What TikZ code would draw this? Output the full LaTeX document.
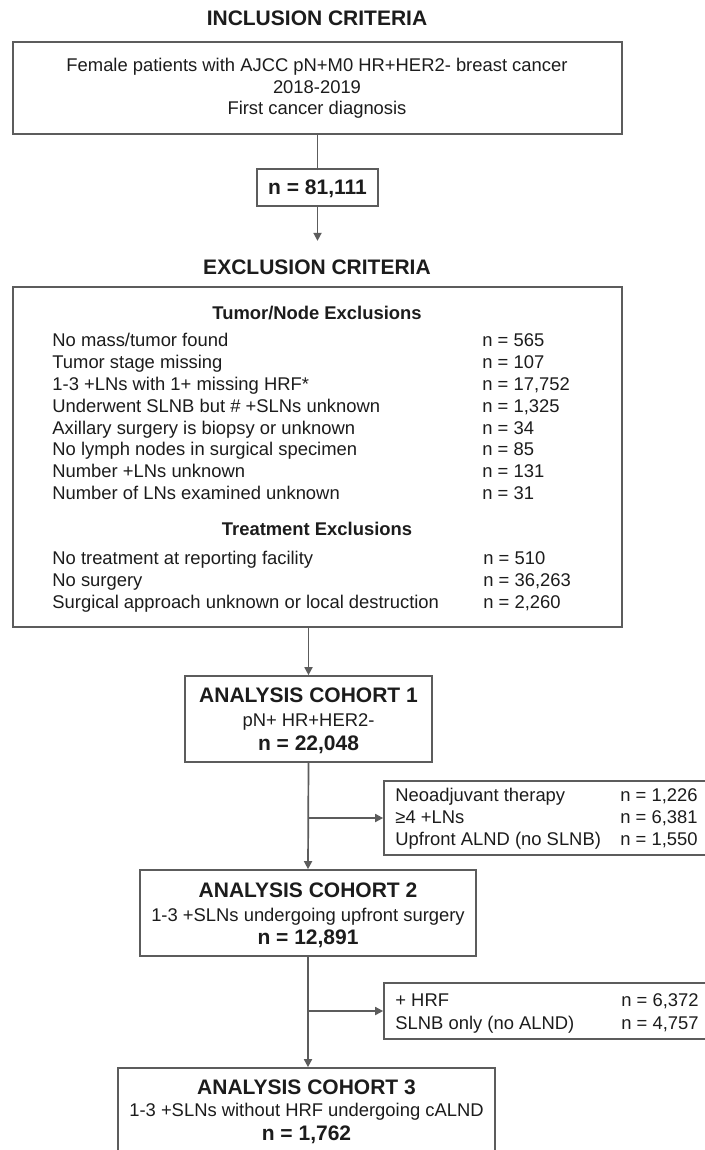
\documentclass[tikz,border=0pt]{standalone}
\usepackage{fontspec}
\setmainfont{Liberation Sans}
\usetikzlibrary{arrows.meta,fit}
\definecolor{linec}{HTML}{5C5C5C}
\definecolor{txtc}{HTML}{1C1C1C}
\begin{document}
\begin{tikzpicture}[x=0.5pt,y=-0.5pt,
  box/.style={draw=linec, line width=0.85pt, inner sep=0pt},
  txt/.style={text=txtc, font=\fontsize{9.2}{11}\selectfont, inner sep=0pt, text height=6.6pt, text depth=0pt},
  btxt/.style={txt, font=\fontsize{9.2}{11}\selectfont\bfseries},
  ttl/.style={txt, font=\fontsize{10.5}{12}\selectfont\bfseries, text height=7.5pt},
  lt/.style={txt, anchor=west},
  conn/.style={draw=linec, line width=0.85pt},
  arr/.style={conn, -{Triangle[length=4pt,width=4pt]}}
]
\useasboundingbox (0,0) rectangle (705,1150);
\clip (0,0) rectangle (705,1150);
\fill[white] (0,0) rectangle (705,1150);

% Inclusion
\node[ttl] (inctitle) at (317,18) {INCLUSION CRITERIA};
\node[box, fit={(13,42) (622,134)}] (inc) {};
\node[txt] (inc1) at (317,65) {Female patients with AJCC pN+M0 HR+HER2- breast cancer};
\node[txt] (inc2) at (317,87) {2018-2019};
\node[txt] (inc3) at (317,108) {First cancer diagnosis};
\node[box, fit={(257,169) (378,206)}] (n1) {};
\node[ttl] (n1t) at (n1.center) {n = 81,111};
\coordinate (excarr) at ([yshift=-17pt]n1.south);
\draw[conn] (inc.south) -- (n1.north);
\draw[arr] (n1.south) -- (excarr);

% Exclusion
\node[ttl] (exctitle) at (317,267) {EXCLUSION CRITERIA};
\node[box, fit={(13,287) (622,627)}] (exc) {};
\node[btxt] (tn) at (317,313) {Tumor/Node Exclusions};
\foreach \i/\a/\b in {0/{No mass/tumor found}/{n = 565},
                      1/{Tumor stage missing}/{n = 107},
                      2/{1-3 +LNs with 1+ missing HRF*}/{n = 17,752},
                      3/{Underwent SLNB but \# +SLNs unknown}/{n = 1,325},
                      4/{Axillary surgery is biopsy or unknown}/{n = 34},
                      5/{No lymph nodes in surgical specimen}/{n = 85},
                      6/{Number +LNs unknown}/{n = 131},
                      7/{Number of LNs examined unknown}/{n = 31}}{
  \node[lt] (tnl\i) at (52,{340+21.85*\i}) {\a};
  \node[lt] (tnr\i) at (482,{340+21.85*\i}) {\b};
}
\node[btxt] (tr) at (317,529) {Treatment Exclusions};
\foreach \i/\a/\b in {0/{No treatment at reporting facility}/{n = 510},
                      1/{No surgery}/{n = 36,263},
                      2/{Surgical approach unknown or local destruction}/{n = 2,260}}{
  \node[lt] (trl\i) at (52,{558+22*\i}) {\a};
  \node[lt] (trr\i) at (483,{558+22*\i}) {\b};
}

% Cohort 1
\node[box, fit={(185,676) (432,762)}] (c1) {};
\node[ttl] (c1a) at (308.5,695) {ANALYSIS COHORT 1};
\node[txt] (c1b) at (308.5,720) {pN+ HR+HER2-};
\node[ttl] (c1c) at (308.5,743) {n = 22,048};
\draw[arr] (c1.north |- exc.south) -- (c1.north);

% Side box 1
\node[box, fit={(384,781) (712,855)}] (s1) {};
\node[lt] (s1a) at (395,795) {Neoadjuvant therapy};
\node[lt] (s1b) at (395,817) {≥4 +LNs};
\node[lt] (s1c) at (395,839) {Upfront ALND (no SLNB)};
\node[lt] (s1d) at (620,795) {n = 1,226};
\node[lt] (s1e) at (620,817) {n = 6,381};
\node[lt] (s1f) at (620,839) {n = 1,550};

% Cohort 2
\node[box, fit={(140,870) (476,956)}] (c2) {};
\node[ttl] (c2a) at (308,890) {ANALYSIS COHORT 2};
\node[txt] (c2b) at (308,915) {1-3 +SLNs undergoing upfront surgery};
\node[ttl] (c2c) at (308,937) {n = 12,891};
\draw[arr] (c1.south) -- (c2.north);
\draw[arr] (c1.south |- s1.west) -- (s1.west);

% Side box 2
\node[box, fit={(384,983) (712,1039)}] (s2) {};
\node[lt] (s2a) at (395,1000) {+ HRF};
\node[lt] (s2b) at (395,1023) {SLNB only (no ALND)};
\node[lt] (s2c) at (621,1000) {n = 6,372};
\node[lt] (s2d) at (621,1023) {n = 4,757};

% Cohort 3
\node[box, fit={(118,1068) (495,1165)}] (c3) {};
\node[ttl] (c3a) at (306.5,1087) {ANALYSIS COHORT 3};
\node[txt] (c3b) at (306.5,1110) {1-3 +SLNs without HRF undergoing cALND};
\node[ttl] (c3c) at (306.5,1133) {n = 1,762};
\draw[arr] (c2.south) -- (c2.south |- c3.north);
\draw[arr] (c2.south |- s2.west) -- (s2.west);
\end{tikzpicture}
\end{document}
